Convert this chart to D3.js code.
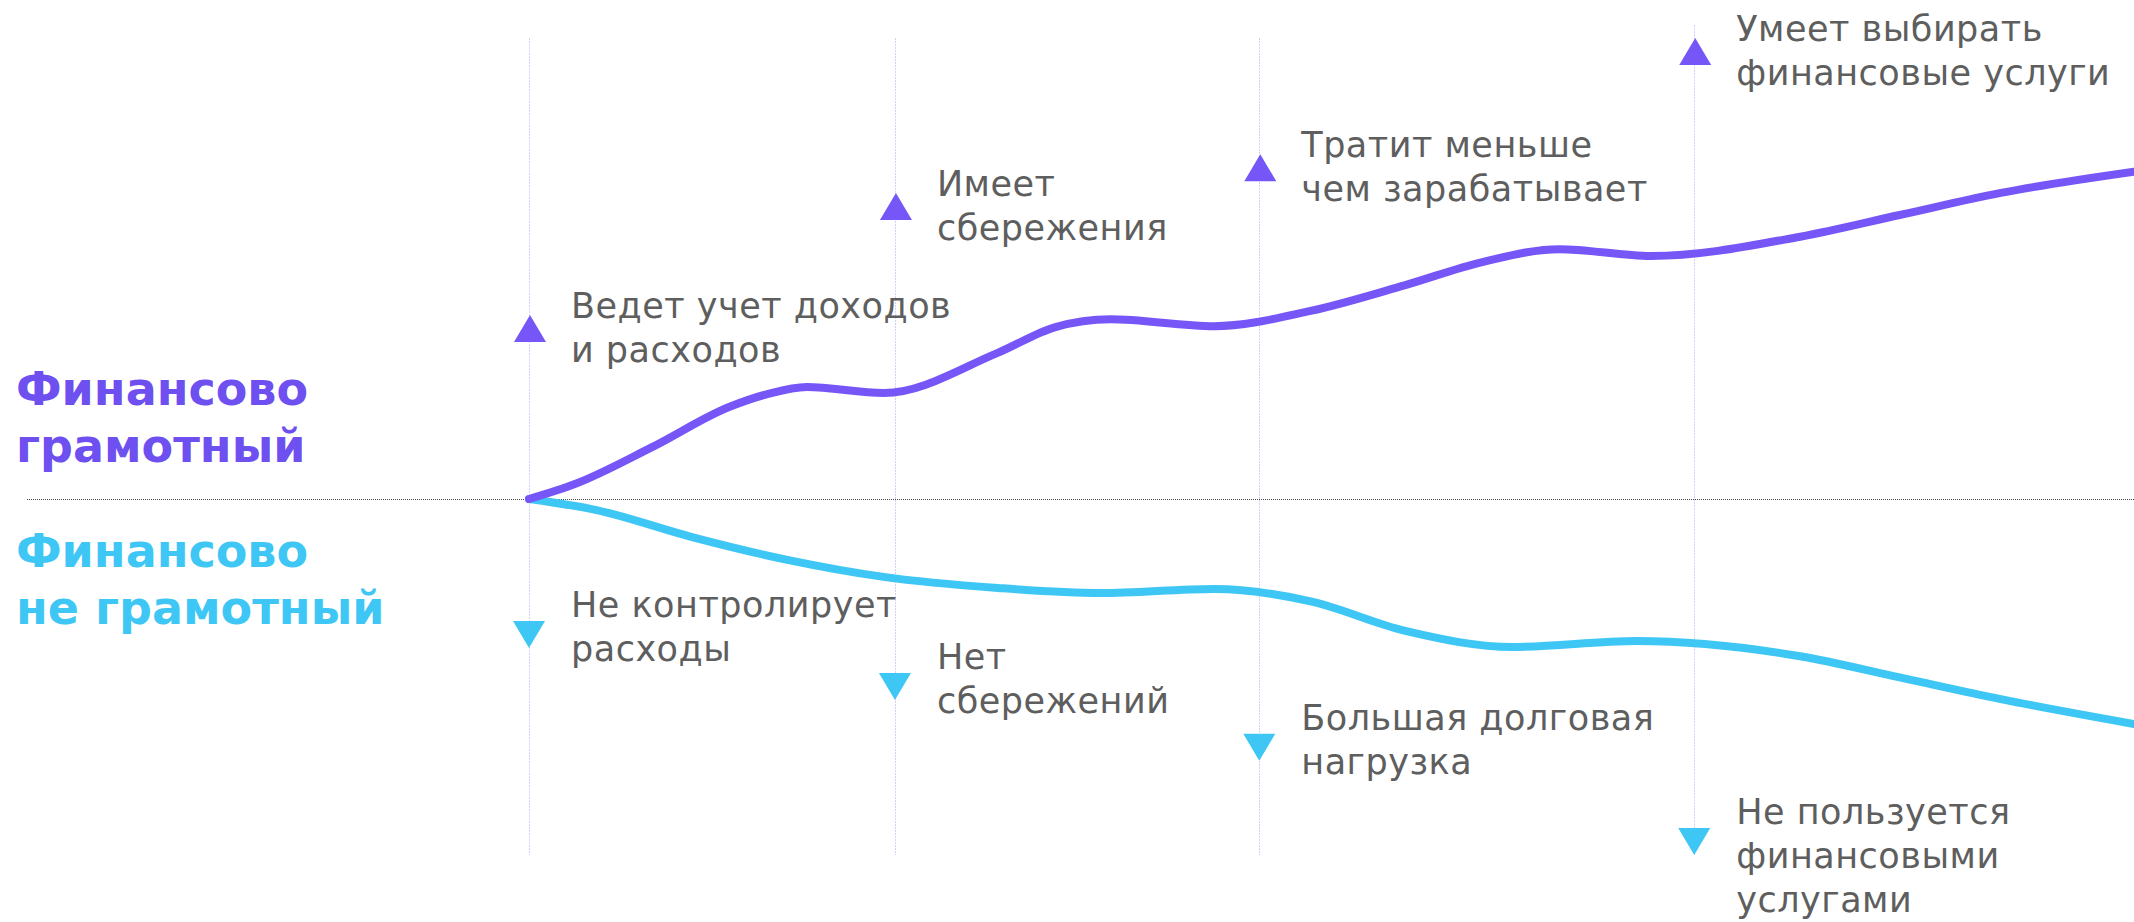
<!DOCTYPE html>
<html>
<head>
<meta charset="utf-8">
<script src="https://cdn.jsdelivr.net/npm/d3@7/dist/d3.min.js"></script>
<style>
  html, body { margin: 0; padding: 0; background: #ffffff; }
  svg { display: block; }
</style>
</head>
<body>
<svg id="chart" width="2134" height="922"></svg>
<script>
// ---------------- DATA ----------------
// time axis (arbitrary units), milestone positions
const milestoneT = [0, 2.28, 4.55, 7.26];
const gridTopValue = [100, 100, 100, 102.8];

// literate curve (values above baseline)
const literateT = [0, 0.29, 0.77, 1.25, 1.49, 1.73, 2.21, 2.92, 3.28, 3.62, 4.27, 4.87, 5.46, 5.94, 6.42, 6.99, 7.92, 8.54, 9.17, 10];
const literateV = [0, 3.3, 11.3, 20.0, 22.8, 24.3, 23.0, 31.7, 37.3, 39.0, 37.5, 40.8, 46.4, 51.4, 54.2, 52.7, 56.9, 61.6, 66.4, 71.0];

// illiterate curve (values below baseline)
const illiterateT = [0, 0.42, 1.01, 1.61, 2.21, 2.92, 3.56, 4.27, 4.87, 5.46, 6.13, 6.90, 7.92, 8.54, 9.17, 10];
const illiterateV = [0, -2.4, -8.2, -13.2, -16.9, -19.3, -20.4, -19.5, -22.2, -28.6, -32.1, -30.8, -34.1, -38.7, -43.4, -48.8];

// marker tips
const upMarkerV = [39.9, 66.4, 74.8, 100];
const downMarkerV = [-32.3, -43.6, -56.8, -77.2];

const upLabels = [
  ["Ведет учет доходов", "и расходов"],
  ["Имеет", "сбережения"],
  ["Тратит меньше", "чем зарабатывает"],
  ["Умеет выбирать", "финансовые услуги"]
];
const downLabels = [
  ["Не контролирует", "расходы"],
  ["Нет", "сбережений"],
  ["Большая долговая", "нагрузка"],
  ["Не пользуется", "финансовыми", "услугами"]
];

const literateTitle = ["Финансово", "грамотный"];
const illiterateTitle = ["Финансово", "не грамотный"];

// ---------------- STYLE ----------------
const W = 2134, H = 922;
const PURPLE = "#7756F8";
const CYAN = "#3EC7F4";
const TITLE_PURPLE = "#6E4FF0";
const GRAY = "#5e5e5e";
const FONT = "'DejaVu Sans', 'Noto Sans', sans-serif";

const svg = d3.select("#chart");

const x = d3.scaleLinear().domain([0, 10]).range([529, 2134]);
const y = d3.scaleLinear().domain([0, 100]).range([499, 38]);

// baseline (dotted)
svg.append("line")
  .attr("x1", 27).attr("x2", W)
  .attr("y1", Math.round(y(0)) + 0.5).attr("y2", Math.round(y(0)) + 0.5)
  .attr("stroke", "#4a4a4a")
  .attr("stroke-width", 1)
  .attr("stroke-dasharray", "1,1");

// vertical milestone lines
const bottomV = d3.min(downMarkerV);
svg.append("g").selectAll("line")
  .data(milestoneT)
  .join("line")
  .attr("x1", d => Math.round(x(d)) + 0.5)
  .attr("x2", d => Math.round(x(d)) + 0.5)
  .attr("y1", (d, i) => y(gridTopValue[i]))
  .attr("y2", y(bottomV))
  .attr("stroke", "#d4cff6")
  .attr("stroke-width", 1)
  .attr("stroke-dasharray", "2,1");

// curves
const lineGen = d3.line()
  .x(d => x(d[0]))
  .y(d => y(d[1]))
  .curve(d3.curveMonotoneX);

const illiterateData = illiterateT.map((t, i) => [t, illiterateV[i]]);
const literateData = literateT.map((t, i) => [t, literateV[i]]);

svg.append("path")
  .datum(illiterateData)
  .attr("d", lineGen)
  .attr("fill", "none")
  .attr("stroke", CYAN)
  .attr("stroke-width", 8)
  .attr("stroke-linecap", "round");

svg.append("path")
  .datum(literateData)
  .attr("d", lineGen)
  .attr("fill", "none")
  .attr("stroke", PURPLE)
  .attr("stroke-width", 8)
  .attr("stroke-linecap", "round");

// markers
const TW = 16, TH = 27;
svg.append("g").selectAll("path")
  .data(milestoneT)
  .join("path")
  .attr("d", (d, i) => {
    const cx = x(d) + 1, ty = y(upMarkerV[i]);
    return `M${cx},${ty}L${cx + TW},${ty + TH}L${cx - TW},${ty + TH}Z`;
  })
  .attr("fill", PURPLE);

svg.append("g").selectAll("path")
  .data(milestoneT)
  .join("path")
  .attr("d", (d, i) => {
    const cx = x(d), by = y(downMarkerV[i]);
    return `M${cx},${by}L${cx + TW},${by - TH}L${cx - TW},${by - TH}Z`;
  })
  .attr("fill", CYAN);

// labels
const LS = 44;
milestoneT.forEach((t, i) => {
  const tx = svg.append("text")
    .attr("x", x(t) + 42)
    .attr("y", y(upMarkerV[i]) + 3)
    .attr("font-family", FONT)
    .attr("font-size", 35)
    .attr("letter-spacing", 0.5)
    .attr("fill", GRAY);
  upLabels[i].forEach((s, k) => {
    tx.append("tspan").attr("x", x(t) + 42).attr("dy", k === 0 ? 0 : LS).text(s);
  });
  const tx2 = svg.append("text")
    .attr("x", x(t) + 42)
    .attr("y", y(downMarkerV[i]) - TH - 4)
    .attr("font-family", FONT)
    .attr("font-size", 35)
    .attr("letter-spacing", 0.5)
    .attr("fill", GRAY);
  downLabels[i].forEach((s, k) => {
    tx2.append("tspan").attr("x", x(t) + 42).attr("dy", k === 0 ? 0 : LS).text(s);
  });
});

// series titles
function title(lines, baseY, color) {
  const t = svg.append("text")
    .attr("x", 16)
    .attr("y", baseY)
    .attr("font-family", FONT)
    .attr("font-weight", "bold")
    .attr("font-size", 46)
    .attr("fill", color);
  lines.forEach((s, k) => {
    t.append("tspan").attr("x", 16).attr("dy", k === 0 ? 0 : 57).text(s);
  });
}
title(literateTitle, 405, TITLE_PURPLE);
title(illiterateTitle, 567, CYAN);
</script>
</body>
</html>
